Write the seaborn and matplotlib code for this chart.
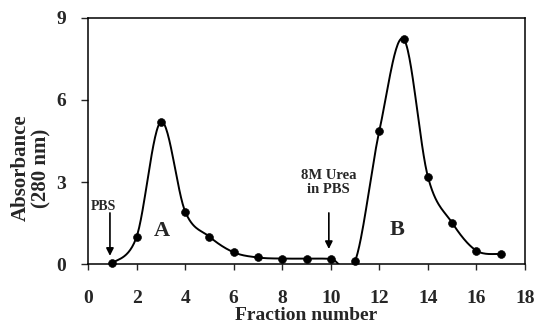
import matplotlib
matplotlib.use("Agg")
import matplotlib.pyplot as plt
import seaborn as sns
import numpy as np

# values
fractions = [1, 2, 3, 4, 5, 6, 7, 8, 9, 10, 11, 12, 13, 14, 15, 16, 17]
absorbance = [0.03, 1.0, 5.2, 1.92, 1.0, 0.43, 0.24, 0.2, 0.2, 0.19, 0.1,
              4.87, 8.23, 3.2, 1.51, 0.49, 0.37]
x_ticks = [0, 2, 4, 6, 8, 10, 12, 14, 16, 18]
y_ticks = [0, 3, 6, 9]

sns.set_style("ticks")
plt.rcParams['font.family'] = ['Liberation Serif', 'DejaVu Serif']
plt.rcParams['font.weight'] = 'bold'


def smooth(xs, ys, n=30):
    # excel-like smoothed line (catmull-rom through bezier segments)
    p = np.column_stack([xs, ys]).astype(float)
    out = []
    for i in range(len(p) - 1):
        p0 = p[i - 1] if i > 0 else p[i]
        p3 = p[i + 2] if i + 2 < len(p) else p[i + 1]
        c1 = p[i] + (p[i + 1] - p0) / 6
        c2 = p[i + 1] - (p3 - p[i]) / 6
        t = np.linspace(0, 1, n)[:, None]
        seg = ((1 - t) ** 3 * p[i] + 3 * (1 - t) ** 2 * t * c1
               + 3 * (1 - t) * t ** 2 * c2 + t ** 3 * p[i + 1])
        out.append(seg if i == 0 else seg[1:])
    out = np.vstack(out)
    return out[:, 0], out[:, 1]


sx, sy = smooth(fractions, absorbance)

fig = plt.figure(figsize=(5.34, 3.26), dpi=100)
ax = fig.add_axes([0.165, 0.19, 0.818, 0.755])

sns.lineplot(x=sx, y=sy, sort=False, estimator=None, color='black', lw=1.4, ax=ax)
sns.scatterplot(x=fractions, y=absorbance, color='black', s=32, edgecolor='black',
                zorder=3, clip_on=False, ax=ax)

ax.set_xlim(0, 18)
ax.set_ylim(0, 9)
ax.set_xticks(x_ticks)
ax.set_yticks(y_ticks)
ax.tick_params(axis='x', direction='out', length=4, width=1, pad=15, labelsize=14)
ax.tick_params(axis='y', direction='out', length=5, width=1, pad=11, labelsize=14)
for s in ax.spines.values():
    s.set_linewidth(1.1)
    s.set_color('black')

ax.set_xlabel('Fraction number', fontsize=14, fontweight='bold', labelpad=0)
ax.set_ylabel('Absorbance\n(280 nm)', fontsize=15, fontweight='bold', linespacing=1.05)
ax.yaxis.set_label_coords(-0.083, 0.39)

# buffer change markers
arrow = dict(arrowstyle='-|>', color='black', lw=1.2, mutation_scale=11,
             shrinkA=0, shrinkB=0)
ax.text(0.62, 2.12, 'PBS', ha='center', va='center', fontsize=10, fontweight='bold')
ax.annotate('', xy=(0.9, 0.3), xytext=(0.9, 1.87), arrowprops=arrow)
ax.text(9.9, 2.97, '8M Urea\nin PBS', ha='center', va='center',
        fontsize=10.5, fontweight='bold', linespacing=1.1)
ax.annotate('', xy=(9.92, 0.55), xytext=(9.92, 1.87), arrowprops=arrow)
ax.text(3.03, 1.2, 'A', fontsize=16, fontweight='bold', ha='center', va='center')
ax.text(12.75, 1.25, 'B', fontsize=16, fontweight='bold', ha='center', va='center')

fig.savefig('out.png', dpi=100)
